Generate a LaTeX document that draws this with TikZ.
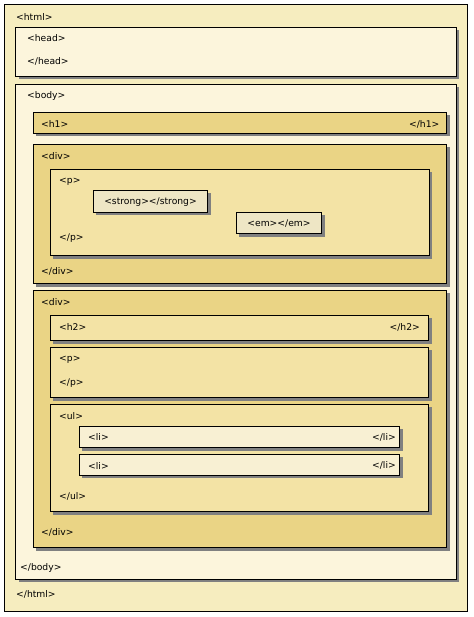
\documentclass[tikz,border=0pt]{standalone}
\usepackage{fontspec}
\setmainfont{DejaVu Sans}
\definecolor{chtml}{HTML}{F6EDBF}
\definecolor{cbody}{HTML}{FCF5DC}
\definecolor{cdiv}{HTML}{EAD485}
\definecolor{cp}{HTML}{F3E3A5}
\definecolor{cli}{HTML}{F8F0D3}
\definecolor{cinl}{HTML}{EEE6C5}
\definecolor{cshadow}{HTML}{808080}
\tikzset{
  x=1pt, y=-1pt,
  tagbox/.style={draw=black, line width=1pt, anchor=north west, inner sep=0pt, minimum width=#1},
  shad/.style={fill=cshadow, draw=none},
  lbl/.style={inner sep=0pt, anchor=west, font=\fontsize{9.2}{11}\selectfont},
  rlbl/.style={inner sep=0pt, anchor=east, font=\fontsize{9.2}{11}\selectfont},
}
\newcommand{\tagrect}[6]{% name, x1, y1, x2, y2, fill, shadow?
  \fill[shad] (#2+3,#3+3) rectangle (#4+3,#5+3);
  \draw[fill=#6, line width=1pt] (#2,#3) rectangle (#4,#5);
  \coordinate (#1-nw) at (#2,#3);
  \coordinate (#1-se) at (#4,#5);
}
\begin{document}
\begin{tikzpicture}
\useasboundingbox (0,0) rectangle (473,617);
\fill[white] (0,0) rectangle (473,617);
% html
\draw[fill=chtml, line width=1pt] (4.5,5) rectangle (467.5,611.5);
\coordinate (html-nw) at (4.5,5);
\node[lbl] (t-html) at (16,16.7) {<html>};
\node[lbl] (t-ehtml) at (16,594.7) {</html>};
% head
\tagrect{head}{15.5}{27.5}{456.3}{76.3}{cbody}
\node[lbl] (t-head) at (27,38.3) {<head>};
\node[lbl] (t-ehead) at (27,61.7) {</head>};
% body
\tagrect{body}{15.5}{84.3}{456.3}{579}{cbody}
\node[lbl] (t-body) at (27,95.7) {<body>};
\node[lbl] (t-ebody) at (20,568.3) {</body>};
% h1
\tagrect{h1}{33.3}{112.3}{446.7}{133.3}{cdiv}
\node[lbl] (t-h1) at (41,124) {<h1>};
\node[rlbl] (t-eh1) at (439.5,124) {</h1>};
% div1
\tagrect{div1}{33.3}{144.3}{446.7}{283.7}{cdiv}
\node[lbl] (t-div1) at (41,156) {<div>};
\node[lbl] (t-ediv1) at (41,271) {</div>};
% p1
\tagrect{p1}{50.3}{169.3}{429}{255.7}{cp}
\node[lbl] (t-p1) at (59,181.3) {<p>};
\node[lbl] (t-ep1) at (59,238.3) {</p>};
% strong
\tagrect{strong}{93.3}{190.3}{207.7}{212.3}{cinl}
\node[inner sep=0pt, font=\fontsize{9.2}{11}\selectfont] (t-strong) at (150.5,202) {<strong></strong>};
% em
\tagrect{em}{236.3}{212.3}{321.7}{233.7}{cinl}
\node[inner sep=0pt, font=\fontsize{9.2}{11}\selectfont] (t-em) at (279,224) {<em></em>};
% div2
\tagrect{div2}{33.3}{290}{446.7}{547.7}{cdiv}
\node[lbl] (t-div2) at (41,302.3) {<div>};
\node[lbl] (t-ediv2) at (41,532) {</div>};
% h2
\tagrect{h2}{50.3}{315.3}{428.7}{340.7}{cp}
\node[lbl] (t-h2) at (59,327.3) {<h2>};
\node[rlbl] (t-eh2) at (420,327.3) {</h2>};
% p2
\tagrect{p2}{50.3}{347.3}{428.7}{397.7}{cp}
\node[lbl] (t-p2) at (59,359.3) {<p>};
\node[lbl] (t-ep2) at (59,382.7) {</p>};
% ul
\tagrect{ul}{50.3}{404.3}{428.7}{511.7}{cp}
\node[lbl] (t-ul) at (59,416) {<ul>};
\node[lbl] (t-eul) at (59,496) {</ul>};
% li1
\tagrect{li1}{79.3}{426.3}{399.7}{447.7}{cli}
\node[lbl] (t-li1) at (88,437) {<li>};
\node[rlbl] (t-eli1) at (396,437) {</li>};
% li2
\tagrect{li2}{79.3}{454.3}{399.7}{475.3}{cli}
\node[lbl] (t-li2) at (88,465.7) {<li>};
\node[rlbl] (t-eli2) at (396,465.7) {</li>};
\end{tikzpicture}
\end{document}
